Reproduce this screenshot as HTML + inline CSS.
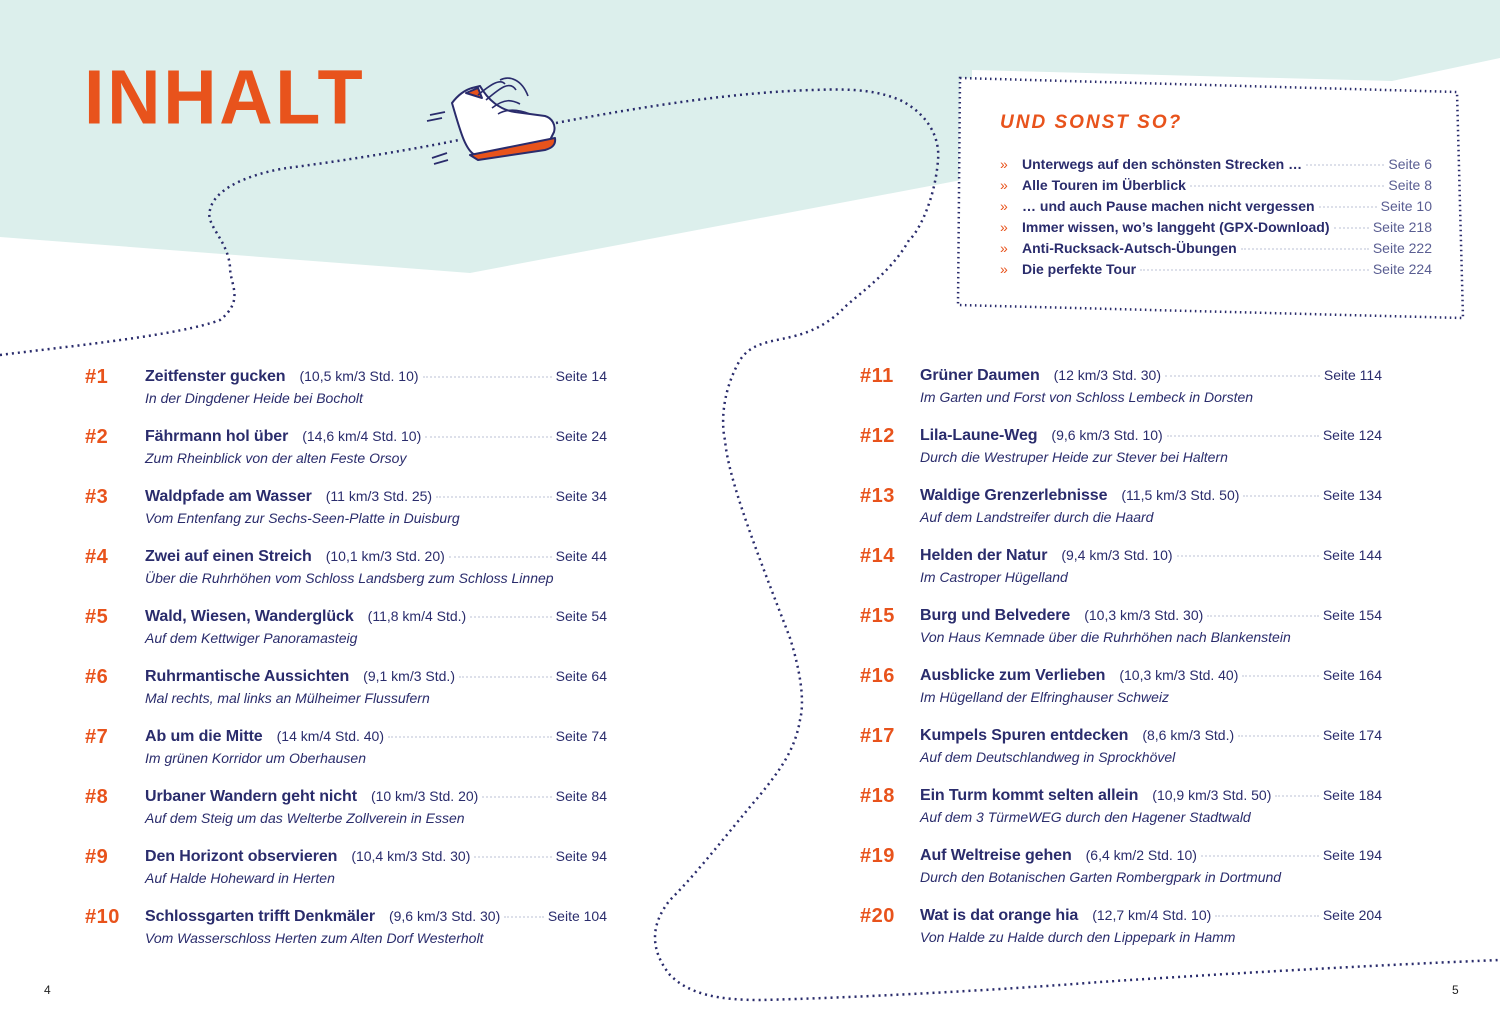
<!DOCTYPE html>
<html><head><meta charset="utf-8"><style>
*{margin:0;padding:0;box-sizing:border-box}
body{width:1500px;height:1025px;position:relative;background:#fff;font-family:"Liberation Sans",sans-serif;overflow:hidden;color:#2a2c6c}
svg.bg{position:absolute;left:0;top:0}
.row{position:absolute;height:44px}
.num{position:absolute;top:-6px;font-weight:bold;color:#e8531c;font-size:20px;letter-spacing:0.5px}
.line{position:absolute;left:0;top:0;display:flex;align-items:baseline;white-space:nowrap;height:20px}
.t{font-size:16px;font-weight:bold;color:#2a2c6c;letter-spacing:-0.1px}
.d{font-size:14px;color:#2a2c6c;margin-left:14px}
.ld{flex:1;border-bottom:2px dotted #dde0ea;margin:0 4px;position:relative;top:-3px}
.p{font-size:14px;color:#2a2c6c}
.s{position:absolute;left:0;top:22px;font-size:14px;font-style:italic;color:#2a2c6c;white-space:nowrap}
.bx{position:absolute;left:1000px;width:432px;display:flex;align-items:baseline;white-space:nowrap;font-size:14px}
.bx .a{color:#e8531c;width:22px;font-size:14px}
.bx .tt{font-weight:bold;color:#2a2c6c}
.bx .pp{color:#5a5e92}
</style></head><body>
<svg class="bg" width="1500" height="1025" viewBox="0 0 1500 1025">
<polygon points="0,0 1500,0 1500,58 1392,81 972,70 972,178 470,273 0,237" fill="#dcefec"/>
<polygon points="960,78 1457,92 1463,318 958,305" fill="#fff" stroke="#2a2c6c" stroke-width="2.5" stroke-dasharray="1.5 3.5"/>
<path d="M0,355 C80,345 180,335 220,320 C245,300 230,285 230,267 C228,240 205,225 210,210 C215,185 260,172 287,168 C350,160 420,148 459,140" fill="none" stroke="#2a2c6c" stroke-width="2.5" stroke-dasharray="2 4"/>
<path d="M556,123 C650,105 740,92 813,90 C860,88 880,92 900,100 C930,115 940,140 938,160 C935,200 918,233 909,240 C890,275 850,300 842,310 C800,350 760,330 740,360 C720,395 722,428 725,440 C728,480 760,560 790,638 C800,670 805,700 800,720 C795,750 780,770 760,795 C730,830 700,870 670,900 C650,925 650,950 670,975 C690,995 720,1000 760,1000 C850,998 1000,990 1100,982 C1250,972 1400,964 1500,960" fill="none" stroke="#2a2c6c" stroke-width="2.5" stroke-dasharray="2 4"/>
<g stroke="#2a2c6c" stroke-width="2" fill="#fff" stroke-linejoin="round">
<path d="M452,103 C458,95 465,90 472,88 L480,86 C488,100 500,110 515,112 L545,116 C552,118 556,125 554,132 L550,140 L475,155 C465,150 460,130 452,103 Z"/>
<path d="M470,155 L555,138 C556,145 552,148 545,150 L478,160 Z" fill="#e8531c"/>
<path d="M466,93 L478,88 L482,98 Z" fill="#e8531c"/>
<path d="M478,95 C490,85 500,78 505,84 M486,100 C500,88 510,80 516,90 M492,108 C505,98 512,100 520,104 M498,114 C508,108 520,110 530,114 M500,80 C510,75 522,80 528,96" fill="none" stroke-width="1.6"/>
<path d="M430,115 L445,112 M427,121 L442,118 M432,158 L447,153 M434,164 L448,160" fill="none" stroke-width="1.8"/>
</g>
</svg>

<div style="position:absolute;left:84px;top:58px;font-size:84px;font-weight:bold;color:#e8531c;letter-spacing:3px;transform:scale(0.88,0.92);transform-origin:left top;line-height:1">INHALT</div>
<div style="position:absolute;left:1000px;top:112px;font-size:19px;font-style:italic;font-weight:bold;color:#e8531c;letter-spacing:2px">UND SONST SO?</div>

<div class="bx" style="top:156px"><span class="a">&#187;</span><span class="tt">Unterwegs auf den schönsten Strecken …</span><span class="ld"></span><span class="pp">Seite 6</span></div>
<div class="bx" style="top:177px"><span class="a">&#187;</span><span class="tt">Alle Touren im Überblick</span><span class="ld"></span><span class="pp">Seite 8</span></div>
<div class="bx" style="top:198px"><span class="a">&#187;</span><span class="tt">… und auch Pause machen nicht vergessen</span><span class="ld"></span><span class="pp">Seite 10</span></div>
<div class="bx" style="top:219px"><span class="a">&#187;</span><span class="tt">Immer wissen, wo’s langgeht (GPX-Download)</span><span class="ld"></span><span class="pp">Seite 218</span></div>
<div class="bx" style="top:240px"><span class="a">&#187;</span><span class="tt">Anti-Rucksack-Autsch-Übungen</span><span class="ld"></span><span class="pp">Seite 222</span></div>
<div class="bx" style="top:261px"><span class="a">&#187;</span><span class="tt">Die perfekte Tour</span><span class="ld"></span><span class="pp">Seite 224</span></div>

<div class="num" style="left:85px;top:366px">#1</div>
<div class="row" style="left:145px;top:368px;width:462px"><div class="line" style="width:462px"><span class="t">Zeitfenster gucken</span><span class="d">(10,5 km/3 Std. 10)</span><span class="ld"></span><span class="p">Seite 14</span></div><div class="s">In der Dingdener Heide bei Bocholt</div></div>
<div class="num" style="left:85px;top:426px">#2</div>
<div class="row" style="left:145px;top:428px;width:462px"><div class="line" style="width:462px"><span class="t">Fährmann hol über</span><span class="d">(14,6 km/4 Std. 10)</span><span class="ld"></span><span class="p">Seite 24</span></div><div class="s">Zum Rheinblick von der alten Feste Orsoy</div></div>
<div class="num" style="left:85px;top:486px">#3</div>
<div class="row" style="left:145px;top:488px;width:462px"><div class="line" style="width:462px"><span class="t">Waldpfade am Wasser</span><span class="d">(11 km/3 Std. 25)</span><span class="ld"></span><span class="p">Seite 34</span></div><div class="s">Vom Entenfang zur Sechs-Seen-Platte in Duisburg</div></div>
<div class="num" style="left:85px;top:546px">#4</div>
<div class="row" style="left:145px;top:548px;width:462px"><div class="line" style="width:462px"><span class="t">Zwei auf einen Streich</span><span class="d">(10,1 km/3 Std. 20)</span><span class="ld"></span><span class="p">Seite 44</span></div><div class="s">Über die Ruhrhöhen vom Schloss Landsberg zum Schloss Linnep</div></div>
<div class="num" style="left:85px;top:606px">#5</div>
<div class="row" style="left:145px;top:608px;width:462px"><div class="line" style="width:462px"><span class="t">Wald, Wiesen, Wanderglück</span><span class="d">(11,8 km/4 Std.)</span><span class="ld"></span><span class="p">Seite 54</span></div><div class="s">Auf dem Kettwiger Panoramasteig</div></div>
<div class="num" style="left:85px;top:666px">#6</div>
<div class="row" style="left:145px;top:668px;width:462px"><div class="line" style="width:462px"><span class="t">Ruhrmantische Aussichten</span><span class="d">(9,1 km/3 Std.)</span><span class="ld"></span><span class="p">Seite 64</span></div><div class="s">Mal rechts, mal links an Mülheimer Flussufern</div></div>
<div class="num" style="left:85px;top:726px">#7</div>
<div class="row" style="left:145px;top:728px;width:462px"><div class="line" style="width:462px"><span class="t">Ab um die Mitte</span><span class="d">(14 km/4 Std. 40)</span><span class="ld"></span><span class="p">Seite 74</span></div><div class="s">Im grünen Korridor um Oberhausen</div></div>
<div class="num" style="left:85px;top:786px">#8</div>
<div class="row" style="left:145px;top:788px;width:462px"><div class="line" style="width:462px"><span class="t">Urbaner Wandern geht nicht</span><span class="d">(10 km/3 Std. 20)</span><span class="ld"></span><span class="p">Seite 84</span></div><div class="s">Auf dem Steig um das Welterbe Zollverein in Essen</div></div>
<div class="num" style="left:85px;top:846px">#9</div>
<div class="row" style="left:145px;top:848px;width:462px"><div class="line" style="width:462px"><span class="t">Den Horizont observieren</span><span class="d">(10,4 km/3 Std. 30)</span><span class="ld"></span><span class="p">Seite 94</span></div><div class="s">Auf Halde Hoheward in Herten</div></div>
<div class="num" style="left:85px;top:906px">#10</div>
<div class="row" style="left:145px;top:908px;width:462px"><div class="line" style="width:462px"><span class="t">Schlossgarten trifft Denkmäler</span><span class="d">(9,6 km/3 Std. 30)</span><span class="ld"></span><span class="p">Seite 104</span></div><div class="s">Vom Wasserschloss Herten zum Alten Dorf Westerholt</div></div>

<div class="num" style="left:860px;top:365px">#11</div>
<div class="row" style="left:920px;top:367px;width:462px"><div class="line" style="width:462px"><span class="t">Grüner Daumen</span><span class="d">(12 km/3 Std. 30)</span><span class="ld"></span><span class="p">Seite 114</span></div><div class="s">Im Garten und Forst von Schloss Lembeck in Dorsten</div></div>
<div class="num" style="left:860px;top:425px">#12</div>
<div class="row" style="left:920px;top:427px;width:462px"><div class="line" style="width:462px"><span class="t">Lila-Laune-Weg</span><span class="d">(9,6 km/3 Std. 10)</span><span class="ld"></span><span class="p">Seite 124</span></div><div class="s">Durch die Westruper Heide zur Stever bei Haltern</div></div>
<div class="num" style="left:860px;top:485px">#13</div>
<div class="row" style="left:920px;top:487px;width:462px"><div class="line" style="width:462px"><span class="t">Waldige Grenzerlebnisse</span><span class="d">(11,5 km/3 Std. 50)</span><span class="ld"></span><span class="p">Seite 134</span></div><div class="s">Auf dem Landstreifer durch die Haard</div></div>
<div class="num" style="left:860px;top:545px">#14</div>
<div class="row" style="left:920px;top:547px;width:462px"><div class="line" style="width:462px"><span class="t">Helden der Natur</span><span class="d">(9,4 km/3 Std. 10)</span><span class="ld"></span><span class="p">Seite 144</span></div><div class="s">Im Castroper Hügelland</div></div>
<div class="num" style="left:860px;top:605px">#15</div>
<div class="row" style="left:920px;top:607px;width:462px"><div class="line" style="width:462px"><span class="t">Burg und Belvedere</span><span class="d">(10,3 km/3 Std. 30)</span><span class="ld"></span><span class="p">Seite 154</span></div><div class="s">Von Haus Kemnade über die Ruhrhöhen nach Blankenstein</div></div>
<div class="num" style="left:860px;top:665px">#16</div>
<div class="row" style="left:920px;top:667px;width:462px"><div class="line" style="width:462px"><span class="t">Ausblicke zum Verlieben</span><span class="d">(10,3 km/3 Std. 40)</span><span class="ld"></span><span class="p">Seite 164</span></div><div class="s">Im Hügelland der Elfringhauser Schweiz</div></div>
<div class="num" style="left:860px;top:725px">#17</div>
<div class="row" style="left:920px;top:727px;width:462px"><div class="line" style="width:462px"><span class="t">Kumpels Spuren entdecken</span><span class="d">(8,6 km/3 Std.)</span><span class="ld"></span><span class="p">Seite 174</span></div><div class="s">Auf dem Deutschlandweg in Sprockhövel</div></div>
<div class="num" style="left:860px;top:785px">#18</div>
<div class="row" style="left:920px;top:787px;width:462px"><div class="line" style="width:462px"><span class="t">Ein Turm kommt selten allein</span><span class="d">(10,9 km/3 Std. 50)</span><span class="ld"></span><span class="p">Seite 184</span></div><div class="s">Auf dem 3 TürmeWEG durch den Hagener Stadtwald</div></div>
<div class="num" style="left:860px;top:845px">#19</div>
<div class="row" style="left:920px;top:847px;width:462px"><div class="line" style="width:462px"><span class="t">Auf Weltreise gehen</span><span class="d">(6,4 km/2 Std. 10)</span><span class="ld"></span><span class="p">Seite 194</span></div><div class="s">Durch den Botanischen Garten Rombergpark in Dortmund</div></div>
<div class="num" style="left:860px;top:905px">#20</div>
<div class="row" style="left:920px;top:907px;width:462px"><div class="line" style="width:462px"><span class="t">Wat is dat orange hia</span><span class="d">(12,7 km/4 Std. 10)</span><span class="ld"></span><span class="p">Seite 204</span></div><div class="s">Von Halde zu Halde durch den Lippepark in Hamm</div></div>

<div style="position:absolute;left:44px;top:983px;font-size:12px;color:#222">4</div>
<div style="position:absolute;left:1452px;top:983px;font-size:12px;color:#222">5</div>
</body></html>
